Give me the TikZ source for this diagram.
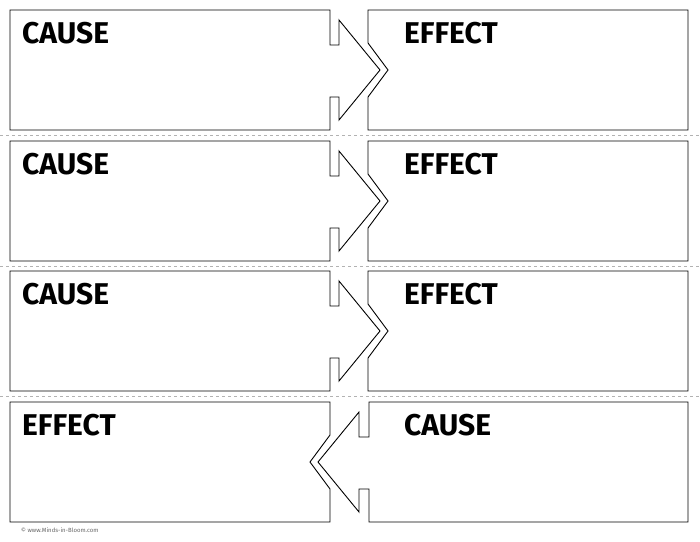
\documentclass[tikz,border=0pt]{standalone}
\usepackage{fontspec}
\setmainfont{Fira Sans}
\begin{document}
\begin{tikzpicture}[x=1pt,y=-1pt,
  box/.style={draw=black,line width=0.9pt,line join=miter},
  sep/.style={draw=gray!60,dashed,line width=0.5pt},
  lbl/.style={anchor=west,font=\fontsize{30}{30}\selectfont\bfseries,inner sep=0pt}]
\useasboundingbox (0,0) rectangle (700,541);
\foreach \t/\a/\b [count=\i] in {10/CAUSE/EFFECT,141/CAUSE/EFFECT,271/CAUSE/EFFECT}{
  \draw[box] (10,\t) -- (330,\t) -- (330,\t+35) -- (339,\t+35) -- (339,\t+10) -- (380,\t+60) -- (339,\t+110) -- (339,\t+87) -- (330,\t+87) -- (330,\t+120) -- (10,\t+120) -- cycle;
  \draw[box] (368,\t) -- (688,\t) -- (688,\t+120) -- (368,\t+120) -- (368,\t+87) -- (388,\t+60) -- (368,\t+33) -- cycle;
  \node[lbl] (l\i) at (22,\t+23) {\a};
  \node[lbl] (r\i) at (404,\t+23) {\b};
}
\draw[box] (10,402) -- (330,402) -- (330,435) -- (310,462) -- (330,489) -- (330,522) -- (10,522) -- cycle;
\draw[box] (369,402) -- (688,402) -- (688,522) -- (369,522) -- (369,489) -- (359,489) -- (359,512) -- (318,462) -- (359,412) -- (359,437) -- (369,437) -- cycle;
\node[lbl] (l4) at (22,425) {EFFECT};
\node[lbl] (r4) at (404,425) {CAUSE};
\foreach \y in {135.5,266,396.5} \draw[sep] (0,\y) -- (700,\y);
\node[anchor=west,font=\fontsize{6}{6}\selectfont,text=gray!80!black,inner sep=0pt] (c) at (21,530) {© www.Minds-in-Bloom.com};
\end{tikzpicture}
\end{document}
